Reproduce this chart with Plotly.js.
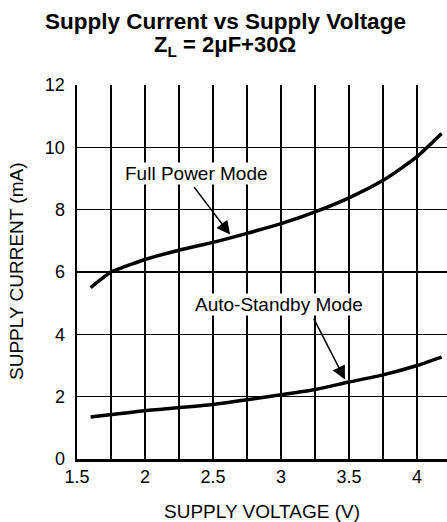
<!DOCTYPE html>
<html>
<head>
<meta charset="utf-8">
<script src="https://cdn.plot.ly/plotly-3.0.1.min.js"></script>
<style>html,body{margin:0;padding:0;background:#fff;}#chart{width:447px;height:522px;}</style>
</head>
<body>
<div id="chart"></div>
<script>
// Data
const fullPowerV = [1.6, 1.75, 1.85, 2.0, 2.25, 2.5, 2.75, 3.0, 3.25, 3.5, 3.75, 4.0, 4.18];
const fullPowerI = [5.5, 6.0, 6.17, 6.4, 6.7, 6.95, 7.24, 7.55, 7.93, 8.38, 8.94, 9.7, 10.44];
const standbyV = [1.6, 2.0, 2.5, 2.75, 3.0, 3.25, 3.5, 3.75, 4.0, 4.18];
const standbyI = [1.35, 1.55, 1.75, 1.9, 2.06, 2.23, 2.47, 2.7, 3.0, 3.27];
const xTickVals = [1.5, 1.75, 2, 2.25, 2.5, 2.75, 3, 3.25, 3.5, 3.75, 4];
const xTickText = ['1.5', '', '2', '', '2.5', '', '3', '', '3.5', '', '4'];
const yTickVals = [0, 2, 4, 6, 8, 10, 12];
const yTickText = ['0', '2', '4', '6', '8', '10', '12'];
const titleLine1 = 'Supply Current vs Supply Voltage';
const titleLine2 = 'Z<sub>L</sub> = 2μF+30Ω';

const font = 'Arial, Liberation Sans, sans-serif';
const traces = [
  {x: fullPowerV, y: fullPowerI, mode: 'lines', line: {color: '#000', width: 3.5, shape: 'spline', smoothing: 0.6}, hoverinfo: 'skip'},
  {x: standbyV, y: standbyI, mode: 'lines', line: {color: '#000', width: 3.5, shape: 'spline', smoothing: 0.6}, hoverinfo: 'skip'}
];
const layout = {
  width: 447, height: 522,
  margin: {l: 77, r: 0, t: 85, b: 63},
  paper_bgcolor: '#fff', plot_bgcolor: '#fff',
  showlegend: false,
  font: {family: font, color: '#000', size: 18},
  xaxis: {
    range: [1.5, 4.22], tickmode: 'array', tickvals: xTickVals, ticktext: xTickText,
    showgrid: true, gridcolor: '#000', gridwidth: 1.2,
    showline: true, linecolor: '#000', linewidth: 2.5,
    zeroline: false, ticks: '', tickfont: {size: 18}, ticklabelstandoff: 0
  },
  yaxis: {
    range: [0, 12], tickmode: 'array', tickvals: yTickVals, ticktext: yTickText,
    showgrid: true, gridcolor: '#000', gridwidth: 1.2,
    showline: true, linecolor: '#000', linewidth: 2.5,
    zeroline: false, ticks: '', tickfont: {size: 18}, ticklabelstandoff: 6
  },
  annotations: [
    {xref: 'paper', yref: 'paper', x: 0.4, y: 1 + (85 - 21) / 374, text: '<b>' + titleLine1 + '</b>',
     showarrow: false, font: {size: 22.5}, xanchor: 'center', yanchor: 'middle'},
    {xref: 'paper', yref: 'paper', x: 0.4, y: 1 + (85 - 46) / 374, text: '<b>' + titleLine2 + '</b>',
     showarrow: false, font: {size: 22}, xanchor: 'center', yanchor: 'middle'},
    {xref: 'paper', yref: 'paper', x: 0.5, y: -(512 - 459) / 374, text: 'SUPPLY VOLTAGE (V)',
     showarrow: false, font: {size: 19}, xanchor: 'center', yanchor: 'middle'},
    {xref: 'paper', yref: 'paper', x: -(77 - 16) / 370, y: 0.5, text: 'SUPPLY CURRENT (mA)',
     showarrow: false, font: {size: 19}, xanchor: 'center', yanchor: 'middle', textangle: -90},
    {x: 2.375, y: 9.17, xref: 'x', yref: 'y', text: 'Full Power Mode', showarrow: false,
     font: {size: 19}, bgcolor: '#fff', borderpad: 0},
    {x: 2.625, y: 7.2, ax: 2.353, ay: 8.77, xref: 'x', yref: 'y', axref: 'x', ayref: 'y',
     text: '', showarrow: true, arrowhead: 2, arrowsize: 1.8, arrowwidth: 1.5, arrowcolor: '#000'},
    {x: 2.985, y: 4.96, xref: 'x', yref: 'y', text: 'Auto-Standby Mode', showarrow: false,
     font: {size: 19}, bgcolor: '#fff', borderpad: 0},
    {x: 3.47, y: 2.55, ax: 3.235, ay: 4.55, xref: 'x', yref: 'y', axref: 'x', ayref: 'y',
     text: '', showarrow: true, arrowhead: 2, arrowsize: 1.8, arrowwidth: 1.5, arrowcolor: '#000'}
  ]
};
Plotly.newPlot('chart', traces, layout, {staticPlot: true, displayModeBar: false});
</script>
</body>
</html>
